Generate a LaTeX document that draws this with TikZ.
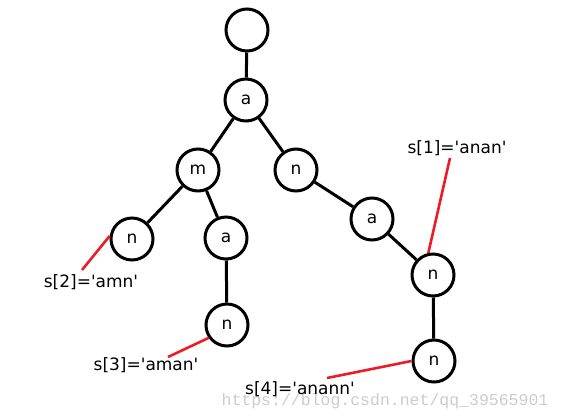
\documentclass[tikz,border=0pt]{standalone}
\usepackage{fontspec}
\setmainfont{DejaVu Sans}
\newfontfamily\wmfont{Liberation Mono}
\definecolor{paintred}{RGB}{237,28,36}
\newcommand{\q}{\textquotesingle}
\begin{document}
\begin{tikzpicture}[x=1pt,y=-1pt,
  tnode/.style={circle,draw=black,line width=3pt,minimum size=42pt,inner sep=0pt,font=\fontsize{17}{17}\selectfont},
  edge/.style={draw=black,line width=3pt},
  redline/.style={draw=paintred,line width=2.6pt},
  lbl/.style={inner sep=0pt,font=\fontsize{17}{17}\selectfont},
  wm/.style={inner sep=0pt,text=black!20,font=\wmfont\fontsize{16.5}{16.5}\selectfont}]
\useasboundingbox (0,0) rectangle (561,418);
\node[tnode] (r) at (247,30) {};
\node[tnode] (a1) at (246,100) {a};
\node[tnode] (m) at (198,170) {m};
\node[tnode] (n1) at (296,170) {n};
\node[tnode] (n2) at (132,239) {n};
\node[tnode] (a2) at (226,238) {a};
\node[tnode] (n3) at (227,325) {n};
\node[tnode] (a3) at (372,219) {a};
\node[tnode] (n4) at (433,275) {n};
\node[tnode] (n5) at (434,361) {n};
\draw[edge] (r) -- (a1);
\draw[edge] (a1) -- (m);
\draw[edge] (a1) -- (n1);
\draw[edge] (m) -- (n2);
\draw[edge] (m) -- (a2);
\draw[edge] (a2) -- (n3);
\draw[edge] (n1) -- (a3);
\draw[edge] (a3) -- (n4);
\draw[edge] (n4) -- (n5);
\node[wm] (w) at (385,401) {https://blog.csdn.net/qq\_39565901};
\node[lbl] (s1) at (457,148) {s[1]=\q anan\q};
\node[lbl] (s2) at (91,282) {s[2]=\q amn\q};
\node[lbl] (s3) at (146,365) {s[3]=\q aman\q};
\node[lbl] (s4) at (300,389) {s[4]=\q anann\q};
\coordinate (c1) at (450,158);
\coordinate (c2) at (82,270);
\coordinate (c3) at (168,357);
\coordinate (c4) at (327,378);
\draw[redline] (c1) -- (n4.102);
\draw[redline] (c2) -- (n2.172);
\draw[redline] (c3) -- (n3.215);
\draw[redline] (c4) -- (n5.180);
\end{tikzpicture}
\end{document}
